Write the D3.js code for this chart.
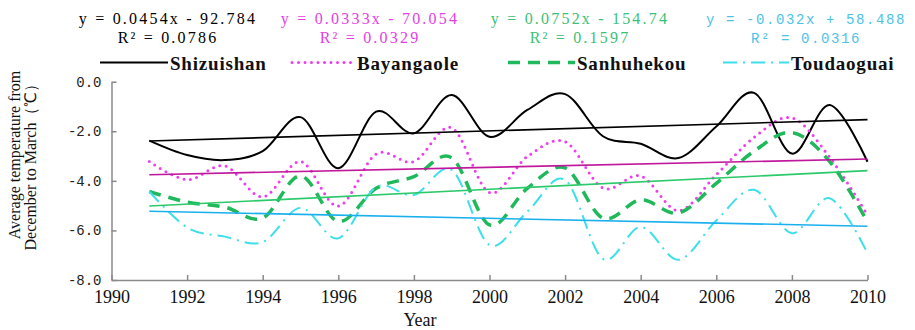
<!DOCTYPE html>
<html>
<head>
<meta charset="utf-8">
<script src="https://cdn.jsdelivr.net/npm/d3@7"></script>
<style>
  body { margin: 0; background: #fff; }
  svg { display: block; }
</style>
</head>
<body>
<div id="wrapper"></div>
<script>
const years = [1991, 1992, 1993, 1994, 1995, 1996, 1997, 1998, 1999, 2000,
               2001, 2002, 2003, 2004, 2005, 2006, 2007, 2008, 2009, 2010]

const shizuishan = [-2.38, -2.96, -3.16, -2.80, -1.43, -3.49, -1.21, -2.08, -0.54, -2.22,
                    -1.14, -0.50, -2.20, -2.50, -3.08, -1.81, -0.45, -2.90, -0.94, -3.23]
const bayangaole = [-3.22, -3.95, -3.40, -4.65, -3.22, -5.02, -2.92, -3.22, -1.86, -4.47,
                    -3.02, -2.42, -4.29, -3.80, -5.20, -3.75, -2.25, -1.46, -3.05, -5.38]
const sanhuhekou = [-4.43, -4.86, -5.06, -5.50, -3.80, -5.64, -4.30, -3.83, -3.07, -5.78,
                    -4.30, -3.48, -5.50, -4.77, -5.30, -4.10, -2.80, -2.05, -3.22, -5.66]
const toudaoguai = [-4.43, -5.88, -6.25, -6.47, -5.09, -6.32, -4.25, -4.57, -3.56, -6.59,
                    -5.24, -3.96, -7.15, -5.86, -7.18, -5.60, -4.36, -6.11, -4.70, -6.92]

const stationNames = ["Shizuishan", "Bayangaole", "Sanhuhekou", "Toudaoguai"]
const slopes = [0.0454, 0.0333, 0.0752, -0.032]
const intercepts = [-92.784, -70.054, -154.74, 58.488]
const equationLabels = ["y = 0.0454x - 92.784", "y = 0.0333x - 70.054",
                        "y = 0.0752x - 154.74", "y = -0.032x + 58.488"]
const r2Labels = ["R\u00b2 = 0.0786", "R\u00b2 = 0.0329", "R\u00b2 = 0.1597", "R\u00b2 = 0.0316"]

const xTicks = [1990, 1992, 1994, 1996, 1998, 2000, 2002, 2004, 2006, 2008, 2010]
const yTicks = [0, -2, -4, -6, -8]

// look of each station (series line, trend line, equation text)
const looks = [
  {color: "#000000", width: 2,   dash: null,       cap: "butt",  trend: "#000000", eq: "#000000", eqFont: "Liberation Serif"},
  {color: "#f03cf0", width: 3,   dash: "0 6.5",    cap: "round", trend: "#c0189c", eq: "#e43fe4", eqFont: "Liberation Serif"},
  {color: "#1fb85a", width: 3.5, dash: "12 8",     cap: "butt",  trend: "#2cc96a", eq: "#3cbf78", eqFont: "Liberation Serif"},
  {color: "#3ddfea", width: 2,   dash: "14 6 2 6", cap: "butt",  trend: "#1ab0ee", eq: "#4cc3e6", eqFont: "Liberation Mono"}
]

const series = [shizuishan, bayangaole, sanhuhekou, toudaoguai].map((vals, i) => ({
  name: stationNames[i],
  values: vals.map((v, j) => ({year: years[j], value: v})),
  trend: [years[0], years[years.length - 1]].map(yr => ({year: yr, value: slopes[i] * yr + intercepts[i]})),
  look: looks[i]
}))

const dimensions = {
  width: 915,
  height: 330,
  margin: {top: 81.7, right: 47.5, bottom: 50, left: 111.5}
}
dimensions.boundedWidth = dimensions.width - dimensions.margin.left - dimensions.margin.right
dimensions.boundedHeight = 280 - dimensions.margin.top

const wrapper = d3.select("#wrapper")
  .append("svg")
    .attr("width", dimensions.width)
    .attr("height", dimensions.height)

const bounds = wrapper.append("g")
    .attr("transform", `translate(${dimensions.margin.left},${dimensions.margin.top})`)

const xScale = d3.scaleLinear()
    .domain([1990, 2010])
    .range([0, dimensions.boundedWidth])

const yScale = d3.scaleLinear()
    .domain([-8, 0])
    .range([dimensions.boundedHeight, 0])

// axes
const axisColor = "#8a8a8a"

const yAxis = bounds.append("g")
    .call(d3.axisLeft(yScale)
      .tickValues(yTicks)
      .tickFormat(d3.format(".1f"))
      .tickSize(-5)
      .tickSizeOuter(0)
      .tickPadding(10))
yAxis.selectAll("path, line").attr("stroke", axisColor).attr("stroke-width", 1.5)
yAxis.selectAll("text")
    .text(d => d3.format(".1f")(d).replace("\u2212", "-"))
    .attr("fill", "#222")
    .style("font-family", "Liberation Mono")
    .style("font-size", "14px")

const xAxis = bounds.append("g")
    .attr("transform", `translate(0,${dimensions.boundedHeight})`)
    .call(d3.axisBottom(xScale)
      .tickValues(xTicks)
      .tickFormat(d3.format("d"))
      .tickSize(-5)
      .tickSizeOuter(0)
      .tickPadding(10))
xAxis.selectAll("path, line").attr("stroke", axisColor).attr("stroke-width", 1.5)
xAxis.selectAll("text")
    .attr("fill", "#111")
    .style("font-family", "Liberation Serif")
    .style("font-size", "18px")

// series curves
const lineGenerator = d3.line()
    .x(d => xScale(d.year))
    .y(d => yScale(d.value))
    .curve(d3.curveCardinal.tension(0))

const trendGenerator = d3.line()
    .x(d => xScale(d.year))
    .y(d => yScale(d.value))

bounds.selectAll(".series")
    .data(series)
  .enter().append("path")
    .attr("class", "series")
    .attr("d", d => lineGenerator(d.values))
    .attr("fill", "none")
    .attr("stroke", d => d.look.color)
    .attr("stroke-width", d => d.look.width)
    .attr("stroke-dasharray", d => d.look.dash)
    .attr("stroke-linecap", d => d.look.cap)

bounds.selectAll(".trend")
    .data(series)
  .enter().append("path")
    .attr("class", "trend")
    .attr("d", d => trendGenerator(d.trend))
    .attr("fill", "none")
    .attr("stroke", d => d.look.trend)
    .attr("stroke-width", 1.6)

// equations at the top
const eqCenters = [168, 370, 580, 806]
const eqGroups = wrapper.selectAll(".eq")
    .data(series)
  .enter().append("g")
    .attr("class", "eq")
    .attr("fill", d => d.look.eq)
    .style("font-family", d => d.look.eqFont)
    .style("font-size", (d, i) => i === 3 ? "14px" : "16px")
    .style("letter-spacing", (d, i) => i === 3 ? "1.6px" : "2.2px")
    .style("text-anchor", "middle")

eqGroups.append("text")
    .attr("x", (d, i) => eqCenters[i])
    .attr("y", 24)
    .text((d, i) => equationLabels[i])

eqGroups.append("text")
    .attr("x", (d, i) => eqCenters[i])
    .attr("y", 43)
    .text((d, i) => r2Labels[i])

// legend
const legendLines = [[100, 168], [292, 355], [508, 575], [723, 789]]
const legendY = 62.5
const legend = wrapper.selectAll(".legend")
    .data(series)
  .enter().append("g")
    .attr("class", "legend")

legend.append("line")
    .attr("x1", (d, i) => legendLines[i][0])
    .attr("x2", (d, i) => legendLines[i][1])
    .attr("y1", legendY)
    .attr("y2", legendY)
    .attr("stroke", d => d.look.color)
    .attr("stroke-width", d => d.look.width)
    .attr("stroke-dasharray", d => d.look.dash)
    .attr("stroke-linecap", d => d.look.cap)

legend.append("text")
    .attr("x", (d, i) => legendLines[i][1] + 2)
    .attr("y", 70)
    .attr("fill", "#111")
    .style("font-family", "Liberation Serif")
    .style("font-weight", "bold")
    .style("font-size", "19px")
    .style("letter-spacing", "0.8px")
    .text(d => d.name)

// axis titles
const yTitle = wrapper.append("g")
    .attr("fill", "#111")
    .style("font-family", "Liberation Serif")
    .style("font-size", "16px")
    .style("text-anchor", "middle")

yTitle.append("text")
    .attr("transform", "translate(20,155) rotate(-90)")
    .text("Average temperature from")

yTitle.append("text")
    .attr("transform", "translate(36,163) rotate(-90)")
    .text("December to March\uff08\u2103\uff09")

wrapper.append("text")
    .attr("x", 420)
    .attr("y", 326)
    .attr("fill", "#111")
    .style("font-family", "Liberation Serif")
    .style("font-size", "18px")
    .style("text-anchor", "middle")
    .text("Year")
</script>
</body>
</html>
